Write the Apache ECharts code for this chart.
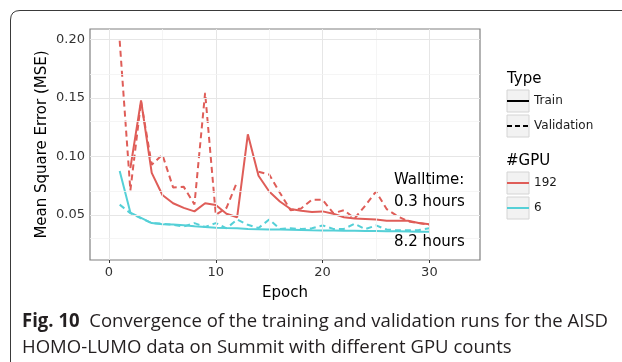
<!DOCTYPE html>
<html><head><meta charset="utf-8">
<script src="https://cdn.jsdelivr.net/npm/echarts@6/dist/echarts.min.js"></script>
<style>html,body{margin:0;padding:0;background:#fff}#c{width:622px;height:362px}</style>
</head><body><div id="c"></div><script>
// ---- data ----
const epochs = [1,2,3,4,5,6,7,8,9,10,11,12,13,14,15,16,17,18,19,20,21,22,23,24,25,26,27,28,29,30];
const train192 = [null,0.090,0.148,0.086,0.067,0.060,0.056,0.053,0.060,0.0585,0.051,0.048,0.119,0.0835,0.070,0.0615,0.055,0.0535,0.0525,0.053,0.051,0.048,0.047,0.0465,0.046,0.045,0.045,0.045,0.043,0.042];
const valid192 = [0.199,0.071,0.147,0.093,0.1015,0.0735,0.074,0.059,0.1545,0.050,0.056,0.0785,null,0.087,0.0845,0.069,0.054,0.0555,0.063,0.063,0.0515,0.054,0.047,0.058,0.070,0.055,0.049,0.0445,0.043,0.0415];
const train6 = [0.0875,0.052,0.0475,0.043,0.042,0.0418,0.0412,0.0402,0.0396,0.039,0.0387,0.0385,0.038,0.0378,0.0376,0.0374,0.0372,0.037,0.0368,0.0367,0.0366,0.0365,0.0364,0.0363,0.0362,0.0361,0.036,0.0358,0.0356,0.0355];
const valid6 = [0.0588,0.0515,0.047,0.043,0.0425,0.0415,0.040,0.043,0.0397,0.043,0.0385,0.046,0.0415,0.0388,0.046,0.038,0.0385,0.038,0.0385,0.041,0.038,0.038,0.0425,0.0378,0.041,0.0375,0.0368,0.0368,0.037,0.0385];
const xTicks = [0,10,20,30];
const xMinor = [5,15,25];
const yTicks = [0.05,0.10,0.15,0.20];
const yMinor = [0.025,0.075,0.125,0.175];
const typeLabels = ['Train','Validation'];
const gpuLabels = ['192','6'];
const annotations = ['Walltime:','0.3 hours','8.2 hours'];
const captionBold = 'Fig. 10';
const captionLine1 = 'Convergence of the training and validation runs for the AISD';
const captionLine2 = 'HOMO-LUMO data on Summit with different GPU counts';

// ---- styles ----
const RED = '#DF5D58', CYAN = '#55D0D7';
const FONT = 'DejaVu Sans';
const CAPFONT = 'Open Sans';

const pairs = arr => epochs.map((e,i)=>[e, arr[i] === null ? '-' : arr[i]]);

const grid = [];
xTicks.forEach(v=>grid.push({xAxis:v, lineStyle:{color:'#E6E6E6', width:1, type:'solid'}}));
xMinor.forEach(v=>grid.push({xAxis:v, lineStyle:{color:'#F2F2F2', width:0.8, type:'solid'}}));
yTicks.forEach(v=>grid.push({yAxis:v, lineStyle:{color:'#E6E6E6', width:1, type:'solid'}}));
yMinor.forEach(v=>grid.push({yAxis:v, lineStyle:{color:'#F2F2F2', width:0.8, type:'solid'}}));

function mkLine(name, arr, color, dashed){
  return {name, type:'line', data:pairs(arr), showSymbol:false, symbol:'none', connectNulls:false, z:3,
    lineStyle:{color, width:2, type: dashed ? [6,4] : 'solid'}, itemStyle:{color}, emphasis:{disabled:true}};
}

// measure caption line 1 to fit its width
const cv = document.createElement('canvas').getContext('2d');
const CAPSIZE = 19;
cv.font = 'bold ' + CAPSIZE + 'px "' + CAPFONT + '"';
const wb = cv.measureText(captionBold).width;
cv.font = CAPSIZE + 'px "' + CAPFONT + '"';
const w1 = wb + cv.measureText('  ' + captionLine1).width;
const sx = 586 / w1;

const chart = echarts.init(document.getElementById('c'), null, {renderer:'canvas'});
const els = [];
const kx = 507, kw = 22, kh = 22;
els.push({type:'text', x:kx, y:79, style:{text:'Type', font:'15px "'+FONT+'"', fill:'#000', textVerticalAlign:'middle'}});
[90,115].forEach((ty,i)=>{
  els.push({type:'rect', shape:{x:kx, y:ty, width:kw, height:kh}, style:{fill:'#F2F2F2', stroke:'#D4D4D4', lineWidth:1}});
  els.push({type:'line', shape:{x1:kx, y1:ty+kh/2, x2:kx+kw, y2:ty+kh/2}, style:{stroke:'#000', lineWidth:2, lineDash: i ? [5,3] : null}});
  els.push({type:'text', x:kx+kw+5, y:ty+kh/2, style:{text:typeLabels[i], font:'12px "'+FONT+'"', fill:'#1a1a1a', textVerticalAlign:'middle'}});
});
els.push({type:'text', x:kx-1, y:161, style:{text:'#GPU', font:'15px "'+FONT+'"', fill:'#000', textVerticalAlign:'middle'}});
[172,197].forEach((ty,i)=>{
  els.push({type:'rect', shape:{x:kx, y:ty, width:kw, height:kh}, style:{fill:'#F2F2F2', stroke:'#D4D4D4', lineWidth:1}});
  els.push({type:'line', shape:{x1:kx, y1:ty+kh/2, x2:kx+kw, y2:ty+kh/2}, style:{stroke: i ? CYAN : RED, lineWidth:2}});
  els.push({type:'text', x:kx+kw+5, y:ty+kh/2, style:{text:gpuLabels[i], font:'12px "'+FONT+'"', fill:'#1a1a1a', textVerticalAlign:'middle'}});
});
[180,202,242].forEach((ty,i)=>{
  els.push({type:'text', x:394, y:ty, z:10, style:{text:annotations[i], font:'15px "'+FONT+'"', fill:'#000', textVerticalAlign:'middle'}});
});
// figure frame
els.push({type:'line', shape:{x1:10.5, y1:362, x2:10.5, y2:20}, style:{stroke:'#3a3a3a', lineWidth:1}});
els.push({type:'bezierCurve', shape:{x1:10.5, y1:20, cpx1:10.5, cpy1:10.5, x2:20, y2:10.5}, style:{stroke:'#3a3a3a', lineWidth:1, fill:null}});
els.push({type:'line', shape:{x1:20, y1:10.5, x2:622, y2:10.5}, style:{stroke:'#3a3a3a', lineWidth:1}});
// caption
els.push({type:'text', x:22, y:322, scaleX:sx, style:{
  text:'{b|'+captionBold+'}  '+captionLine1,
  font: CAPSIZE+'px "'+CAPFONT+'"', fill:'#231F20', textVerticalAlign:'middle',
  rich:{b:{fontWeight:'bold', fontSize:CAPSIZE, fontFamily:CAPFONT, fill:'#231F20'}}}});
els.push({type:'text', x:22, y:348, scaleX:sx, style:{text:captionLine2, font: CAPSIZE+'px "'+CAPFONT+'"', fill:'#231F20', textVerticalAlign:'middle'}});

chart.setOption({
  animation:false,
  backgroundColor:'#fff',
  grid:{left:90, top:29, width:390, height:231, show:true, borderColor:'#808080', borderWidth:1.2, backgroundColor:'transparent'},
  xAxis:{type:'value', min:-1.78, max:34.74,
    axisLine:{show:false}, splitLine:{show:false},
    axisTick:{show:true, length:3, customValues:xTicks, lineStyle:{color:'#333'}},
    axisLabel:{customValues:xTicks, margin:6, fontSize:13, color:'#333', fontFamily:FONT},
    name:'Epoch', nameLocation:'middle', nameGap:26, nameMoveOverlap:false, nameTextStyle:{fontSize:15, color:'#000', fontFamily:FONT}},
  yAxis:{type:'value', min:0.0114, max:0.2091,
    axisLine:{show:false}, splitLine:{show:false},
    axisTick:{show:true, length:3, customValues:yTicks, lineStyle:{color:'#333'}},
    axisLabel:{customValues:yTicks, margin:5, fontSize:13, color:'#333', fontFamily:FONT, formatter:v=>v.toFixed(2)},
    name:'Mean Square Error (MSE)', nameLocation:'middle', nameGap:40, nameMoveOverlap:false, nameTextStyle:{fontSize:15, color:'#000', fontFamily:FONT}},
  series:[
    {type:'line', data:[], z:1, silent:true, markLine:{silent:true, symbol:['none','none'], label:{show:false}, emphasis:{disabled:true}, data:grid}},
    mkLine('6 Train', train6, CYAN, false),
    mkLine('6 Validation', valid6, CYAN, true),
    mkLine('192 Train', train192, RED, false),
    mkLine('192 Validation', valid192, RED, true)
  ],
  graphic: els
});
</script></body></html>
